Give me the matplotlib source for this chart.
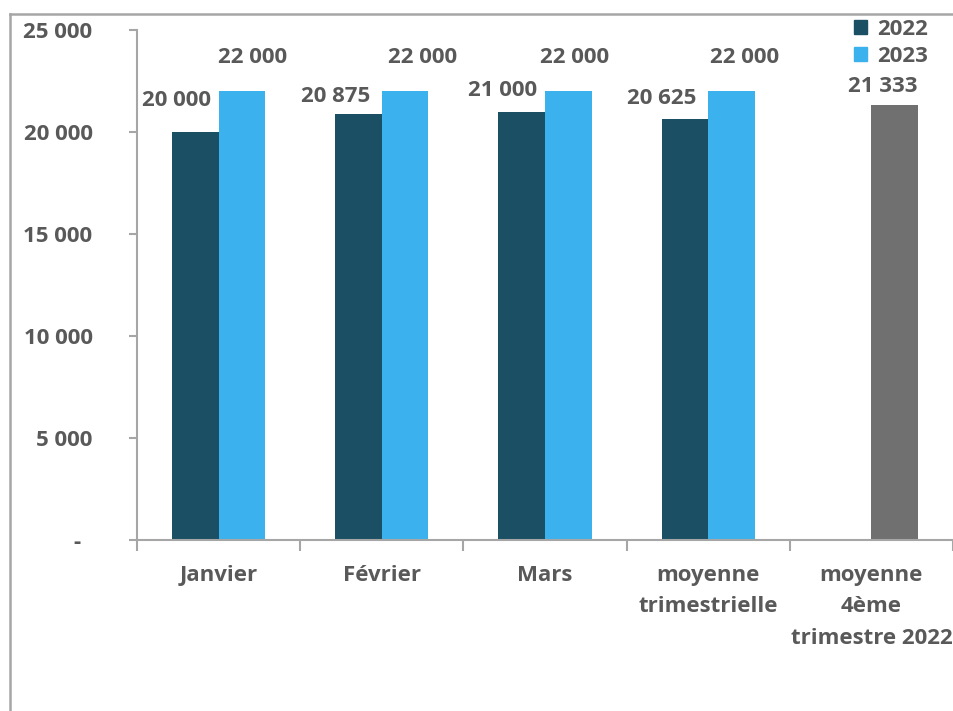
import matplotlib.pyplot as plt
from matplotlib.patches import Patch
from matplotlib.lines import Line2D
import numpy as np

plt.rcParams['font.family'] = ['Open Sans', 'DejaVu Sans']
plt.rcParams['font.weight'] = 'bold'

categories = ["Janvier", "Février", "Mars", "moyenne\ntrimestrielle", "moyenne\n4ème\ntrimestre 2022"]
val_2022 = [20000, 20875, 21000, 20625]
val_2023 = [22000, 22000, 22000, 22000]
val_t4 = 21333
yticks = [0, 5000, 10000, 15000, 20000, 25000]
ytick_labels = ["-  ", "5 000", "10 000", "15 000", "20 000", "25 000"]

# petits decalages des etiquettes (comme Excel)
nudge_2022 = [(-19, 32), (-23, 18), (-19, 21), (-23, 21)]
nudge_2023 = [(11, 34), (18, 34), (6, 34), (13, 34)]

c_dark = "#1b4f63"
c_light = "#3bb2ee"
c_gray = "#707070"
c_txt = "#595959"
c_axe = "#a6a6a6"
fs = 16

fig = plt.figure(figsize=(9.54, 7.11), dpi=100)
ax = fig.add_axes([137/954, 1-540/711, 816/954, 510/711])

w = 0.285
x = np.arange(len(categories))
b1 = ax.bar(x[:4] - w/2, val_2022, w, color=c_dark)
b2 = ax.bar(x[:4] + w/2, val_2023, w, color=c_light)
b3 = ax.bar(x[4] + w/2, val_t4, w, color=c_gray)

def fmt(v):
    return f"{v:,}".replace(",", " ")

for i, r in enumerate(b1):
    ax.annotate(fmt(val_2022[i]), (r.get_x() + r.get_width()/2, r.get_height()),
                xytext=nudge_2022[i], textcoords="offset pixels", ha="center", va="center",
                fontsize=fs, color=c_txt, fontweight="bold")
for i, r in enumerate(b2):
    ax.annotate(fmt(val_2023[i]), (r.get_x() + r.get_width()/2, r.get_height()),
                xytext=nudge_2023[i], textcoords="offset pixels", ha="center", va="center",
                fontsize=fs, color=c_txt, fontweight="bold")
r = b3[0]
ax.annotate(fmt(val_t4), (r.get_x() + r.get_width()/2, r.get_height()),
            xytext=(-12, 18), textcoords="offset pixels", ha="center", va="center",
            fontsize=fs, color=c_txt, fontweight="bold")

ax.set_xlim(-0.5, 4.5)
ax.set_ylim(0, 25000)
ax.set_yticks(yticks)
ax.set_yticklabels(ytick_labels)
ax.tick_params(axis="y", length=6, width=1.5, color=c_axe, pad=26, labelsize=fs, labelcolor=c_txt)

ax.set_xticks(x)
ax.set_xticklabels(categories, linespacing=1.65)
ax.set_xticks(np.arange(-0.5, 5, 1), minor=True)
ax.tick_params(axis="x", which="major", length=0, pad=18, labelsize=fs, labelcolor=c_txt)
ax.tick_params(axis="x", which="minor", length=8, width=1.5, color=c_axe)
for t in ax.get_xticklabels():
    t.set_verticalalignment("top")

for s in ["top", "right"]:
    ax.spines[s].set_visible(False)
for s in ["left", "bottom"]:
    ax.spines[s].set_color(c_axe)
    ax.spines[s].set_linewidth(1.5)

handles = [Patch(color=c_dark, label="2022"), Patch(color=c_light, label="2023")]
fig.legend(handles=handles, loc="upper left", bbox_to_anchor=(838/954, 1-3/711),
           frameon=False, fontsize=fs, handlelength=0.6, handleheight=0.6,
           handletextpad=0.45, labelspacing=0.3, labelcolor=c_txt, borderpad=0.2)

# cadre du graphique
fx = 10.5/954
fy = 1 - 13.5/711
fig.add_artist(Line2D([fx, fx], [0, fy], transform=fig.transFigure, color=c_axe, lw=1.8))
fig.add_artist(Line2D([fx, 1], [fy, fy], transform=fig.transFigure, color=c_axe, lw=1.8))

fig.savefig("out.png", dpi=100)
